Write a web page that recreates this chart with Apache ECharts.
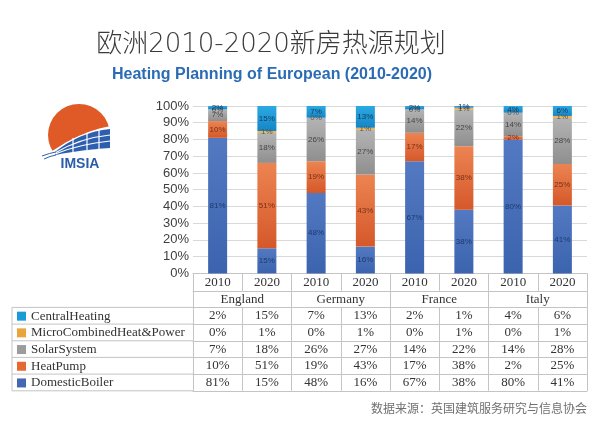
<!DOCTYPE html>
<html><head><meta charset="utf-8">
<script src="https://cdn.jsdelivr.net/npm/echarts@6/dist/echarts.min.js"></script>
<style>html,body{margin:0;padding:0;background:#fff}#c{width:600px;height:421px}</style>
</head><body><div id="c"></div>
<script>
// ---- data ----
const years = ['2010','2020','2010','2020','2010','2020','2010','2020'];
const countries = ['England','Germany','France','Italy'];
const domesticBoiler = [81,15,48,16,67,38,80,41];
const heatPump       = [10,51,19,43,17,38,2,25];
const solarSystem    = [7,18,26,27,14,22,14,28];
const microCHP       = [0,1,0,1,0,1,0,1];
const centralHeating = [2,15,7,13,2,1,4,6];
const seriesNames = ['DomesticBoiler','HeatPump','SolarSystem','MicroCombinedHeat&Power','CentralHeating'];
const titleText = '欧洲2010-2020新房热源规划';
const subtitleText = 'Heating Planning of European (2010-2020)';
const sourceText = '数据来源：英国建筑服务研究与信息协会';

// ---- styles ----
const LINE = '#c4c4c4';
const serif = 'Liberation Serif';
const sans = 'Liberation Sans';
const styles = [
  {top:'#5279c2', bottom:'#3c63ad', icon:'#4467b2', label:'#1f3a6e'},
  {top:'#ec8452', bottom:'#d5582a', icon:'#e56a32', label:'#7a3015'},
  {top:'#b4b4b4', bottom:'#8f8f8f', icon:'#9c9c9c', label:'#454545'},
  {top:'#f7bd45', bottom:'#e9a12c', icon:'#e9a53a', label:'#555'},
  {top:'#2aaae2', bottom:'#1586c6', icon:'#1a9bd7', label:'#1a3a60'}
];
const values = [domesticBoiler, heatPump, solarSystem, microCHP, centralHeating];
const totals = years.map((_, i) => values.reduce((s, arr) => s + arr[i], 0));

// table rows (top to bottom)
const tableRows = [centralHeating, microCHP, solarSystem, heatPump, domesticBoiler];
const rowOffsets = [0, 17.4, 34, 50.7, 67.4, 84, 100.7, 117.4];

function tableAxis(data, offset, height) {
  return {
    type:'category', gridIndex:0, position:'bottom', offset, data, boundaryGap:true, silent:true,
    axisLine:{show:true, lineStyle:{color:LINE, width:1}},
    axisTick:{show:true, length:height, interval:0, alignWithLabel:false, lineStyle:{color:LINE, width:1}},
    axisLabel:{show:true, interval:0, margin:height/2, verticalAlign:'middle',
      fontFamily:serif, fontSize:13, color:'#333'},
    splitLine:{show:false}
  };
}

const xAxes = [tableAxis(years, rowOffsets[0], rowOffsets[1]-rowOffsets[0]),
               tableAxis(countries, rowOffsets[1], rowOffsets[2]-rowOffsets[1])];
tableRows.forEach((arr, r) => {
  xAxes.push(tableAxis(arr.map(v => v + '%'), rowOffsets[r+2], rowOffsets[r+3]-rowOffsets[r+2]));
});
xAxes.push({type:'category', gridIndex:0, position:'bottom', offset:rowOffsets[7], data:years, silent:true,
  axisLine:{show:true, lineStyle:{color:LINE, width:1}}, axisTick:{show:false}, axisLabel:{show:false}, splitLine:{show:false}});

const series = values.map((arr, k) => ({
  name: seriesNames[k], type:'bar', stack:'total', xAxisIndex:0, barWidth:19,
  data: arr.map((v, i) => v / totals[i] * 100),
  itemStyle:{color:{type:'linear', x:0, y:0, x2:0, y2:1, colorStops:[
    {offset:0, color:styles[k].top},{offset:1, color:styles[k].bottom}]}},
  label:{show:true, position:'inside', fontFamily:sans, fontSize:8, color:styles[k].label,
    formatter: p => arr[p.dataIndex] + '%'},
  emphasis:{disabled:true}
}));

const legendOrder = [4,3,2,1,0];

const chart = echarts.init(document.getElementById('c'), null, {renderer:'canvas'});
chart.setOption({
  animation:false,
  backgroundColor:'#fff',
  grid:{left:193, right:13, top:106, bottom:147.6, containLabel:false},
  xAxis: xAxes,
  yAxis:{type:'value', min:0, max:100, interval:10,
    axisLine:{show:false}, axisTick:{show:false},
    axisLabel:{formatter:'{value}%', fontFamily:sans, fontSize:13, color:'#404040', margin:4},
    splitLine:{lineStyle:{color:'#d9d9d9', width:1}}},
  legend:{orient:'vertical', left:17, top:307.8, padding:0, itemWidth:9, itemHeight:9, itemGap:0, selectedMode:false,
    icon:'rect',
    data: legendOrder.map(k => ({name:seriesNames[k], itemStyle:{color:styles[k].icon}})),
    textStyle:{fontFamily:serif, fontSize:13, color:'#333', lineHeight:16.7, height:16.7, padding:[0,0,0,0]}},
  series
});

// table frame for legend column, computed from axes
const c0 = chart.convertToPixel({xAxisIndex:0}, 0);
const c1 = chart.convertToPixel({xAxisIndex:0}, 1);
const left = c0 - (c1 - c0) / 2;
const base = chart.convertToPixel({yAxisIndex:0}, 0);
const tableLeft = 12;
const frame = [];
for (let r = 2; r < rowOffsets.length; r++) {
  frame.push({type:'line', silent:true, shape:{x1:tableLeft, y1:base+rowOffsets[r], x2:left, y2:base+rowOffsets[r]},
    style:{stroke:LINE, lineWidth:1}});
}
frame.push({type:'line', silent:true, shape:{x1:tableLeft, y1:base+rowOffsets[2], x2:tableLeft, y2:base+rowOffsets[7]},
  style:{stroke:LINE, lineWidth:1}});

// logo helpers (decoration)
function quad(p0, c, p1, n) {
  const pts = [];
  for (let i = 0; i <= n; i++) {
    const t = i / n;
    pts.push([(1-t)*(1-t)*p0[0] + 2*(1-t)*t*c[0] + t*t*p1[0], (1-t)*(1-t)*p0[1] + 2*(1-t)*t*c[1] + t*t*p1[1]]);
  }
  return pts;
}
const BLUE = '#2e5fae';
const topEdge = quad([55,152],[80,132],[110,129],16);
const botEdge = quad([110,148],[80,150],[55,155],16);
const logo = [
  {type:'circle', silent:true, shape:{cx:79, cy:135, r:31}, style:{fill:'#e05a28'}},
  {type:'polygon', silent:true, shape:{points: quad([44,157],[80,130],[113,126],16).concat([[113,172],[44,172]])}, style:{fill:'#fff'}},
  {type:'polygon', silent:true, shape:{points: topEdge.concat(botEdge)}, style:{fill:BLUE}},
  {type:'bezierCurve', silent:true, shape:{x1:55, y1:153, cpx1:80, cpy1:138, x2:110, y2:135}, style:{stroke:'#fff', lineWidth:1.2, fill:null}},
  {type:'bezierCurve', silent:true, shape:{x1:55, y1:154, cpx1:80, cpy1:144, x2:110, y2:141}, style:{stroke:'#fff', lineWidth:1.2, fill:null}},
  {type:'line', silent:true, shape:{x1:73, y1:138, x2:73, y2:152}, style:{stroke:'#fff', lineWidth:1.2}},
  {type:'line', silent:true, shape:{x1:87, y1:133, x2:87, y2:150}, style:{stroke:'#fff', lineWidth:1.2}},
  {type:'line', silent:true, shape:{x1:99, y1:130, x2:99, y2:149}, style:{stroke:'#fff', lineWidth:1.2}},
  {type:'bezierCurve', silent:true, shape:{x1:42, y1:156, cpx1:50, cpy1:153, x2:56, y2:152}, style:{stroke:BLUE, lineWidth:1, fill:null}},
  {type:'bezierCurve', silent:true, shape:{x1:44, y1:159, cpx1:50, cpy1:156, x2:56, y2:155}, style:{stroke:BLUE, lineWidth:1, fill:null}},
  {type:'text', silent:true, x:80, y:164, style:{text:'IMSIA', align:'center', verticalAlign:'middle',
    font:'bold 14px "Liberation Sans"', fill:'#2a5caa'}}
];

const texts = [
  {type:'text', silent:true, x:271, y:45, style:{text:titleText, align:'center', verticalAlign:'middle',
    font:'300 26px "DejaVu Sans", "Noto Sans CJK SC"', fill:'#3a3a3a'}},
  {type:'text', silent:true, x:272, y:75, style:{text:subtitleText, align:'center', verticalAlign:'middle',
    font:'bold 16px "Liberation Sans"', fill:'#2b6cb4'}},
  {type:'text', silent:true, x:587, y:408, style:{text:sourceText, align:'right', verticalAlign:'middle',
    font:'12px "Noto Sans CJK SC"', fill:'#707070'}}
];

chart.setOption({graphic:{elements: frame.concat(logo, texts)}});
</script></body></html>
